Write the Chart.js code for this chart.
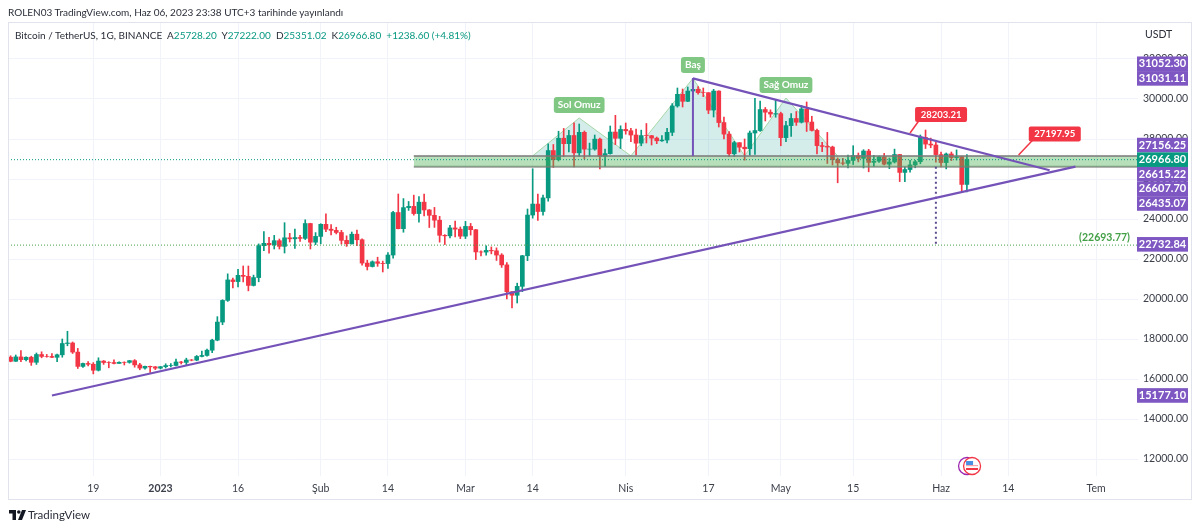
<!DOCTYPE html>
<html>
<head>
<meta charset="utf-8">
<title>Bitcoin / TetherUS</title>
<script src="https://cdn.jsdelivr.net/npm/chart.js@4/dist/chart.umd.min.js"></script>
<style>
  html, body { margin: 0; padding: 0; background: #fff; }
  body { width: 1200px; height: 530px; position: relative; overflow: hidden; font-family: Lato, sans-serif; color: #2a2e39; }
  #wrap { position: absolute; left: 0; top: 0; width: 1200px; height: 530px; }
  #published { position: absolute; left: 8px; top: 4px; font-size: 10px; line-height: 16px; white-space: nowrap; }
  #legend { position: absolute; left: 15px; top: 27px; font-size: 10px; line-height: 16px; white-space: pre; }
  #legend b { font-weight: normal; color: #089981; }
  #unit { position: absolute; left: 1145px; top: 26px; font-size: 10.5px; line-height: 16px; }
  #brand { position: absolute; left: 28px; top: 507px; font-size: 11.5px; line-height: 16px; }
  #logo { position: absolute; left: 9px; top: 510px; }
</style>
</head>
<body>
<div id="wrap"><canvas id="myChart" width="1200" height="530"></canvas></div>
<div id="published">ROLEN03 TradingView.com, Haz 06, 2023 23:38 UTC+3 tarihinde yayınlandı</div>
<div id="legend">Bitcoin / TetherUS, 1G, BINANCE  A<b>25728.20</b>  Y<b>27222.00</b>  D<b>25351.02</b>  K<b>26966.80</b>  <b>+1238.60 (+4.81%)</b></div>
<div id="unit">USDT</div>
<svg id="logo" width="17" height="10" viewBox="0 0 17 10"><path d="M0 0h7v10H3.5V3.5H0z M13 0l4 0-4 10H9z" fill="#131722"/><circle cx="9.8" cy="2" r="1.8" fill="#131722"/></svg>
<div id="brand">TradingView</div>
<script>
const firstCandle = '2022-12-03';

const opens = [
  17090,16885,17105,16967,17088,16836,17224,17128,17127,17085,17210,17775,17800,17345,16630,16777,16738,16438,16896,16825,16822,16778,16836,16832,16917,16706,16547,16633,16607,
  16542,16616,16672,16675,16850,16831,16950,16943,17127,17178,17440,17943,18846,19930,20954,20871,21185,21133,20677,21071,22667,22783,22707,22916,22632,23060,23009,23074,23031,23774,22840,
  23130,23733,23490,23431,23326,22932,22762,23240,22963,21796,21625,21862,21783,21773,22199,24324,23517,24569,24631,24271,24842,24452,24183,23940,23185,23158,23554,23492,
  23141,23629,23465,22354,22346,22430,22409,22197,21705,20362,20187,20632,22163,24197,24746,24375,25055,27423,26965,28038,27767,28175,27307,28333,27493,27494,27994,27139,27268,28348,28033,28478,
  28411,28199,27790,28171,28165,28044,27910,27947,28333,29653,30235,29884,30399,30485,30318,30315,29445,30397,28822,28245,27262,27817,27590,27512,28300,28422,29473,29340,29248,29268,
  28068,28669,29026,28838,29505,28848,28430,27668,27628,27598,26968,26804,26784,26930,27170,27032,27398,26832,26890,27101,26742,26851,27225,26329,26473,26705,26865,28078,27745,27700,27220,
  26820,27252,27070,27115,25728
];
const highs = [
  17160,17200,17425,17110,17140,17300,17360,17227,17270,17240,18000,18387,17850,17530,16800,16875,16820,17060,16925,16866,16955,16860,16860,16930,16970,16785,16650,16640,16630,
  16628,16760,16773,16990,16880,17041,16977,17176,17398,17491,17990,19117,19964,21258,21050,21480,21650,21650,21194,22755,23371,23078,23180,23000,23816,23282,23500,23189,23960,23789,23320,
  23764,24255,23715,23587,23433,23158,23350,23450,23011,21940,21906,22090,21894,22324,24380,25250,25021,24877,25192,25121,25250,24476,24580,24132,23219,23689,23895,23600,
  23880,23780,23476,22410,22662,22603,22557,22268,21819,20367,20792,22185,24500,26514,25250,25200,27756,27725,28390,28528,28439,28803,28750,28400,27795,28200,28044,27500,28650,29184,28660,
  28800,28534,28500,28444,28775,28180,28100,28175,28530,29770,30550,30500,30600,31000,30620,30550,30320,30485,30410,29100,28370,27885,27820,28000,28399,30036,29890,29575,29460,29960,
  29340,28880,29266,29375,29675,29850,29138,28500,27830,28330,27643,27055,27030,27200,27665,27300,27465,27485,27183,27150,27280,27050,27495,27225,26590,26930,26933,28200,28450,28045,27832,
  27350,27300,27350,27455,27140,27222
];
const lows = [
  16860,16880,16870,16900,16680,16730,17060,17090,17070,16870,17090,17660,17275,16525,16580,16660,16256,16400,16730,16560,16755,16780,16700,16790,16590,16460,16490,16333,16470,
  16500,16550,16605,16650,16750,16679,16908,16911,17100,17142,17315,17910,18714,19880,20550,20610,20853,20407,20650,20860,22422,22292,22500,22500,22300,22850,22534,22878,22973,22500,22715,
  22760,23363,23206,23253,22745,22628,22745,22665,21688,21451,21599,21632,21352,21532,22047,23505,23339,24430,24192,23840,24148,23574,23580,22841,22722,23059,23106,23020,
  23020,23195,21971,22157,22189,22258,21927,21580,20000,19549,19800,20368,21918,24042,23930,24192,24890,26578,26900,27124,27360,26601,27137,27000,27150,27437,26508,26631,27243,27720,27525,
  28240,27870,27200,27659,27800,27700,27767,27880,27800,28170,29590,29600,29870,29966,30240,30120,29270,29100,28600,28010,27125,27130,27350,26942,27192,27235,28375,28900,29088,29088,
  27662,27872,28130,28680,28800,28377,28395,27250,27366,26777,26702,25811,26700,26560,26724,26852,26550,26360,26630,26830,26700,26520,26800,25870,25870,26340,26560,26760,27524,27562,26841,
  26605,26505,26920,26950,25388,25351
];
const closes = [
  16885,17105,16967,17088,16836,17224,17128,17127,17085,17210,17775,17800,17345,16630,16777,16738,16438,16896,16825,16822,16778,16836,16832,16917,16706,16547,16633,16607,16542,
  16616,16672,16675,16850,16831,16950,16943,17127,17178,17440,17943,18846,19930,20954,20871,21185,21133,20677,21071,22667,22783,22707,22916,22632,23060,23009,23074,23031,23774,22840,23130,
  23733,23490,23431,23326,22932,22762,23240,22963,21796,21625,21862,21783,21773,22199,24324,23517,24569,24631,24271,24842,24452,24183,23940,23185,23158,23554,23492,23141,
  23629,23465,22354,22346,22430,22409,22197,21705,20362,20187,20632,22163,24197,24746,24375,25055,27423,26965,28038,27767,28175,27307,28333,27493,27494,27994,27139,27268,28348,28033,28478,
  28411,28199,27790,28171,28165,28044,27910,27947,28333,29653,30235,29884,30399,30485,30318,30315,29445,30397,28822,28245,27262,27817,27590,27512,28300,28422,29473,29340,29248,29268,28068,
  28669,29026,28838,29505,28848,28430,27668,27628,27598,26968,26804,26784,26930,27170,27032,27398,26832,26890,27101,26742,26851,27225,26329,26473,26705,26865,28078,27745,27700,27220,26820,
  27252,27070,27115,25728,26966.8
];

const yTicks = [12000,14000,16000,18000,20000,22000,24000,26000,28000,30000,32000];
const tickDates = ['2022-12-19','2023-01-01','2023-01-16','2023-02-01','2023-02-14','2023-03-01','2023-03-14','2023-04-01','2023-04-17','2023-05-01','2023-05-15','2023-06-01','2023-06-14','2023-07-01'];
const tickLabels = ['19','2023','16','Şub','14','Mar','14','Nis','17','May','15','Haz','14','Tem'];

const risingLine = [['2022-12-11',15177.10],['2023-06-27',26615.22]];
const fallingLine = [['2023-04-14',31031.11],['2023-06-22',26435.07]];
const headDrop = [['2023-04-14',31052.30],['2023-04-14',27156.25]];
const targetDrop = [['2023-05-31',26607.70],['2023-05-31',22732.84]];
const patternOutline = [['2023-03-14',27156],['2023-03-23',29050],['2023-04-02',27156],['2023-04-14',31031],['2023-04-24',27156],['2023-05-02',30050],['2023-05-12',27156]];
const zoneStart = '2023-02-19';
const zoneTop = 27156.25;
const zoneBottom = 26607.70;
const lastPrice = 26966.80;
const targetPrice = 22693.77;

const priceLabels = [31052.30,31031.11,27156.25,26966.80,26615.22,26607.70,26435.07,22732.84,15177.10];
const patternLabels = [['Sol Omuz','2023-03-23',29700],['Baş','2023-04-14',31700],['Sağ Omuz','2023-05-02',30700]];
const calloutLabels = [['28203.21','2023-06-01',29225,'2023-05-26',28300],['27197.95','2023-06-23',28250,'2023-06-16',27197.95]];

const UP = '#089981';
const DOWN = '#f23645';
const PURPLE = '#7e57c2';
const LINE_PURPLE = '#7452b8';
const X_MIN = -29.5;
const X_MAX = 189.1;
const FONT = 'Lato, sans-serif';

function dayOf(date) {
  return (Date.parse(date) - Date.parse('2023-01-01')) / 86400000;
}
function toPoints(rows) {
  return rows.map(r => ({ x: dayOf(r[0]), y: r[1] }));
}
function lineSet(data, color, width, extra) {
  return Object.assign({ type: 'line', data, borderColor: color, borderWidth: width, pointRadius: 0, tension: 0, fill: false }, extra);
}

const start = dayOf(firstCandle);
const candleDays = opens.map((o, i) => start + i);
const candleColors = opens.map((o, i) => closes[i] >= o ? UP : DOWN);

function roundBox(ctx, x, y, w, h, r, color) {
  ctx.fillStyle = color;
  ctx.beginPath();
  ctx.roundRect(x, y, w, h, r);
  ctx.fill();
}

// price tags on the right axis push each other apart, last price stays put
function stackTags(values, y) {
  const height = 14.6;
  const placed = values.map(v => ({ v, y: y.getPixelForValue(v) }));
  let i = 0;
  while (i < placed.length) {
    let j = i;
    while (j + 1 < placed.length && placed[j + 1].y - placed[j].y < height) j++;
    let anchor = j;
    for (let k = i; k <= j; k++) if (placed[k].v === lastPrice) anchor = k;
    for (let k = i; k <= j; k++) placed[k].y = placed[anchor].y + (k - anchor) * height;
    i = j + 1;
  }
  return placed;
}

const overlay = {
  id: 'overlay',
  afterDraw(chart) {
    const { ctx, scales: { x, y }, chartArea } = chart;
    ctx.save();
    ctx.textAlign = 'center';
    ctx.textBaseline = 'middle';

    patternLabels.forEach(([text, date, value]) => {
      const px = x.getPixelForValue(dayOf(date));
      const py = y.getPixelForValue(value);
      ctx.font = 'bold 10px ' + FONT;
      const w = ctx.measureText(text).width + 8;
      roundBox(ctx, px - w / 2, py - 8, w, 16, 3, '#81c784');
      ctx.fillStyle = '#fff';
      ctx.fillText(text, px, py);
    });

    calloutLabels.forEach(([text, date, value, tipDate, tipValue]) => {
      const px = x.getPixelForValue(dayOf(date));
      const py = y.getPixelForValue(value);
      ctx.strokeStyle = DOWN;
      ctx.lineWidth = 1.5;
      ctx.beginPath();
      ctx.moveTo(px - 22, py + 6);
      ctx.lineTo(x.getPixelForValue(dayOf(tipDate)), y.getPixelForValue(tipValue));
      ctx.stroke();
      roundBox(ctx, px - 26, py - 7.5, 52, 15, 2, DOWN);
      ctx.font = 'bold 9.5px ' + FONT;
      ctx.fillStyle = '#fff';
      ctx.fillText(text, px, py);
    });

    ctx.font = 'bold 10.5px ' + FONT;
    ctx.fillStyle = '#43a047';
    ctx.textAlign = 'right';
    ctx.fillText('(' + targetPrice.toFixed(2) + ')', chartArea.right - 8, y.getPixelForValue(targetPrice) - 8);

    // earnings flag near the bottom of the pane
    const fx = x.getPixelForValue(dayOf('2023-06-07'));
    const fy = y.getPixelForValue(11650);
    ctx.lineWidth = 1.3;
    ctx.strokeStyle = '#9c27b0';
    ctx.fillStyle = '#fff';
    ctx.beginPath(); ctx.arc(fx - 5, fy, 8.5, 0, Math.PI * 2); ctx.fill(); ctx.stroke();
    ctx.strokeStyle = DOWN;
    ctx.beginPath(); ctx.arc(fx, fy, 8.5, 0, Math.PI * 2); ctx.fill(); ctx.stroke();
    ctx.fillStyle = '#f6a5ac';
    ctx.fillRect(fx - 6, fy - 1, 12, 1.2);
    ctx.fillStyle = DOWN;
    ctx.fillRect(fx - 6, fy + 2, 12, 2);
    ctx.fillStyle = '#4a90e2';
    ctx.fillRect(fx - 6, fy - 5, 7, 4);

    // price tags
    ctx.textAlign = 'center';
    ctx.font = 'bold 11px ' + FONT;
    stackTags(priceLabels, y).forEach(tag => {
      ctx.fillStyle = tag.v === lastPrice ? UP : PURPLE;
      ctx.fillRect(chartArea.right - 1, tag.y - 7.3, 51, 14.6);
      ctx.fillStyle = '#fff';
      ctx.fillText(tag.v.toFixed(2), chartArea.right + 24.5, tag.y);
    });
    ctx.restore();
  }
};

const ctx = document.getElementById('myChart').getContext('2d');
const myChart = new Chart(ctx, {
  type: 'bar',
  data: {
    datasets: [
      lineSet(toPoints(patternOutline), '#a5d6a7', 1, { order: 10, fill: { value: zoneTop }, backgroundColor: 'rgba(0,150,136,0.17)' }),
      { data: candleDays.map((d, i) => ({ x: d, y: [lows[i], highs[i]] })), backgroundColor: candleColors, barThickness: 1, grouped: false, order: 9 },
      { data: candleDays.map((d, i) => ({ x: d, y: [opens[i], closes[i]] })), backgroundColor: candleColors, barThickness: 4, grouped: false, order: 8 },
      lineSet([{ x: dayOf(zoneStart), y: zoneTop }, { x: X_MAX, y: zoneTop }], 'rgba(120,120,120,0.75)', 2, { order: 6, fill: { value: zoneBottom }, backgroundColor: 'rgba(76,175,80,0.4)' }),
      lineSet([{ x: dayOf(zoneStart), y: zoneBottom }, { x: X_MAX, y: zoneBottom }], 'rgba(120,120,120,0.75)', 2, { order: 6 }),
      lineSet([{ x: X_MIN, y: lastPrice }, { x: X_MAX, y: lastPrice }], UP, 1, { order: 5, borderDash: [1, 2] }),
      lineSet([{ x: X_MIN, y: targetPrice }, { x: X_MAX, y: targetPrice }], '#43a047', 1, { order: 5, borderDash: [1, 2] }),
      lineSet(toPoints(targetDrop), '#5e4a8e', 2, { order: 4, borderDash: [2, 3] }),
      lineSet(toPoints(headDrop), LINE_PURPLE, 2, { order: 3 }),
      lineSet(toPoints(risingLine), LINE_PURPLE, 2.2, { order: 3 }),
      lineSet(toPoints(fallingLine), LINE_PURPLE, 2.2, { order: 3 })
    ]
  },
  options: {
    responsive: false,
    animation: false,
    events: [],
    layout: { padding: { left: 8, top: 23, right: 8, bottom: 30 } },
    plugins: { legend: { display: false }, tooltip: { enabled: false } },
    scales: {
      x: {
        type: 'linear',
        min: X_MIN,
        max: X_MAX,
        offset: false,
        afterBuildTicks(scale) {
          scale.ticks = tickDates.map(d => ({ value: dayOf(d) }));
        },
        afterFit(scale) { scale.height = 24; },
        grid: { color: '#f0f3fa', offset: false, drawTicks: false },
        border: { display: false },
        ticks: {
          autoSkip: false,
          maxRotation: 0,
          padding: 6,
          color: '#3c404b',
          font: c => ({ family: FONT, size: 10.5, weight: c.tick && c.tick.value === 0 ? 'bold' : 'normal' }),
          callback: value => tickLabels[tickDates.findIndex(d => dayOf(d) === value)]
        }
      },
      y: {
        type: 'linear',
        position: 'right',
        min: 11150,
        max: 33800,
        afterBuildTicks(scale) {
          scale.ticks = yTicks.map(value => ({ value }));
        },
        afterFit(scale) { scale.width = 54; },
        grid: { color: '#f0f3fa', drawTicks: false },
        border: { display: false },
        ticks: {
          padding: 5,
          color: '#3c404b',
          font: { family: FONT, size: 10.5 },
          callback: value => value.toFixed(2)
        }
      }
    }
  },
  plugins: [overlay, {
    id: 'frame',
    afterDraw(chart) {
      const c = chart.ctx;
      c.save();
      c.strokeStyle = '#e0e3eb';
      c.lineWidth = 1;
      c.strokeRect(8.5, 22.5, 1183, 477);
      c.restore();
    }
  }]
});
</script>
</body>
</html>
